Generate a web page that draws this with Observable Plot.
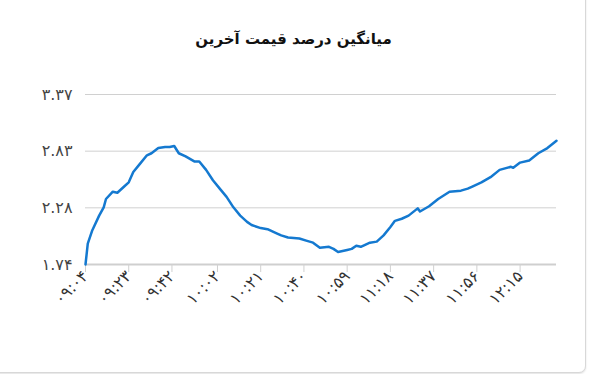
<!DOCTYPE html>
<html>
<head>
<meta charset="utf-8">
<script src="https://cdn.jsdelivr.net/npm/d3@7"></script>
<script src="https://cdn.jsdelivr.net/npm/@observablehq/plot@0.6"></script>
<style>
  html, body { margin: 0; padding: 0; background: #fff; }
  body { width: 589px; height: 374px; position: relative; overflow: hidden; font-family: "DejaVu Sans", sans-serif; }
  #card { position: absolute; left: -10px; top: -10px; width: 594px; height: 381px; border: 1px solid #d8d8d8; border-radius: 7px; box-shadow: 0 1px 2px rgba(0,0,0,0.12); background: #fff; }
  #title { position: absolute; left: 0; top: 30px; width: 587px; text-align: center; font-weight: bold; font-size: 15px; color: #111; direction: rtl; }
  #chart { position: absolute; left: 0; top: 70px; }
</style>
</head>
<body>
<div id="card"></div>
<div id="title">میانگین درصد قیمت آخرین</div>
<div id="chart"></div>
<script>
const times = ["09:04","09:05","09:07","09:10","09:12","09:13","09:16","09:18","09:21","09:23","09:25","09:28","09:31","09:33","09:36","09:39","09:41","09:43","09:45","09:48","09:52","09:54","09:57","10:00","10:03","10:06","10:09","10:12","10:15","10:17","10:21","10:24","10:28","10:30","10:33","10:38","10:41","10:44","10:47","10:51","10:53","10:55","10:59","11:01","11:03","11:05","11:09","11:12","11:15","11:18","11:20","11:23","11:26","11:30","11:31","11:35","11:39","11:44","11:49","11:52","11:54","11:58","12:02","12:06","12:11","12:12","12:15","12:19","12:23","12:27","12:31"];
const values = [1.74,1.94,2.07,2.21,2.29,2.37,2.44,2.43,2.49,2.53,2.63,2.71,2.79,2.81,2.86,2.87,2.87,2.88,2.81,2.78,2.73,2.73,2.65,2.55,2.47,2.39,2.29,2.21,2.15,2.12,2.09,2.08,2.04,2.02,2.00,1.99,1.97,1.95,1.90,1.91,1.89,1.86,1.88,1.89,1.92,1.91,1.95,1.96,2.02,2.10,2.16,2.18,2.21,2.28,2.25,2.30,2.37,2.44,2.45,2.47,2.49,2.53,2.58,2.65,2.68,2.67,2.72,2.74,2.81,2.86,2.93];
const xTicks = ["09:04","09:23","09:42","10:02","10:21","10:40","10:59","11:18","11:37","11:56","12:15"];
const xTickLabels = ["۰۹:۰۴","۰۹:۲۳","۰۹:۴۲","۱۰:۰۲","۱۰:۲۱","۱۰:۴۰","۱۰:۵۹","۱۱:۱۸","۱۱:۳۷","۱۱:۵۶","۱۲:۱۵"];
const yTicks = [1.74, 2.285, 2.83, 3.375];
const yTickLabels = ["۱.۷۴","۲.۲۸","۲.۸۳","۳.۳۷"];

const toMin = s => { const [h, m] = s.split(":").map(Number); return h * 60 + m; };
const data = times.map((t, i) => ({x: toMin(t), y: values[i]}));
const xTickVals = xTicks.map(toMin);

const chart = Plot.plot({
  width: 589,
  height: 302,
  marginLeft: 85,
  marginRight: 33,
  marginTop: 24,
  marginBottom: 108,
  style: {fontFamily: "DejaVu Sans, sans-serif", fontSize: "12px", color: "#444", background: "transparent"},
  x: {domain: [toMin("09:04"), toMin("12:31")], label: null},
  y: {domain: [1.74, 3.375], label: null},
  marks: [
    Plot.ruleY(yTicks.slice(1), {stroke: "#d0d0d0", strokeWidth: 1}),
    Plot.ruleY([1.74], {stroke: "#cfcfcf", strokeWidth: 2}),
    Plot.axisY({ticks: yTicks, label: null, tickSize: 0, tickPadding: 13, tickFormat: (d, i) => yTickLabels[i], fontSize: 16, fill: "#444"}),
    Plot.axisX({ticks: xTickVals, label: null, tickSize: 8, stroke: "#d0d0d0", tickRotate: -45, tickPadding: 1, tickFormat: (d, i) => xTickLabels[i], fontSize: 16, fill: "#333"}),
    Plot.line(data, {x: "x", y: "y", stroke: "#1479d0", strokeWidth: 2.5, curve: "linear"})
  ]
});
document.getElementById("chart").appendChild(chart);
</script>
</body>
</html>
